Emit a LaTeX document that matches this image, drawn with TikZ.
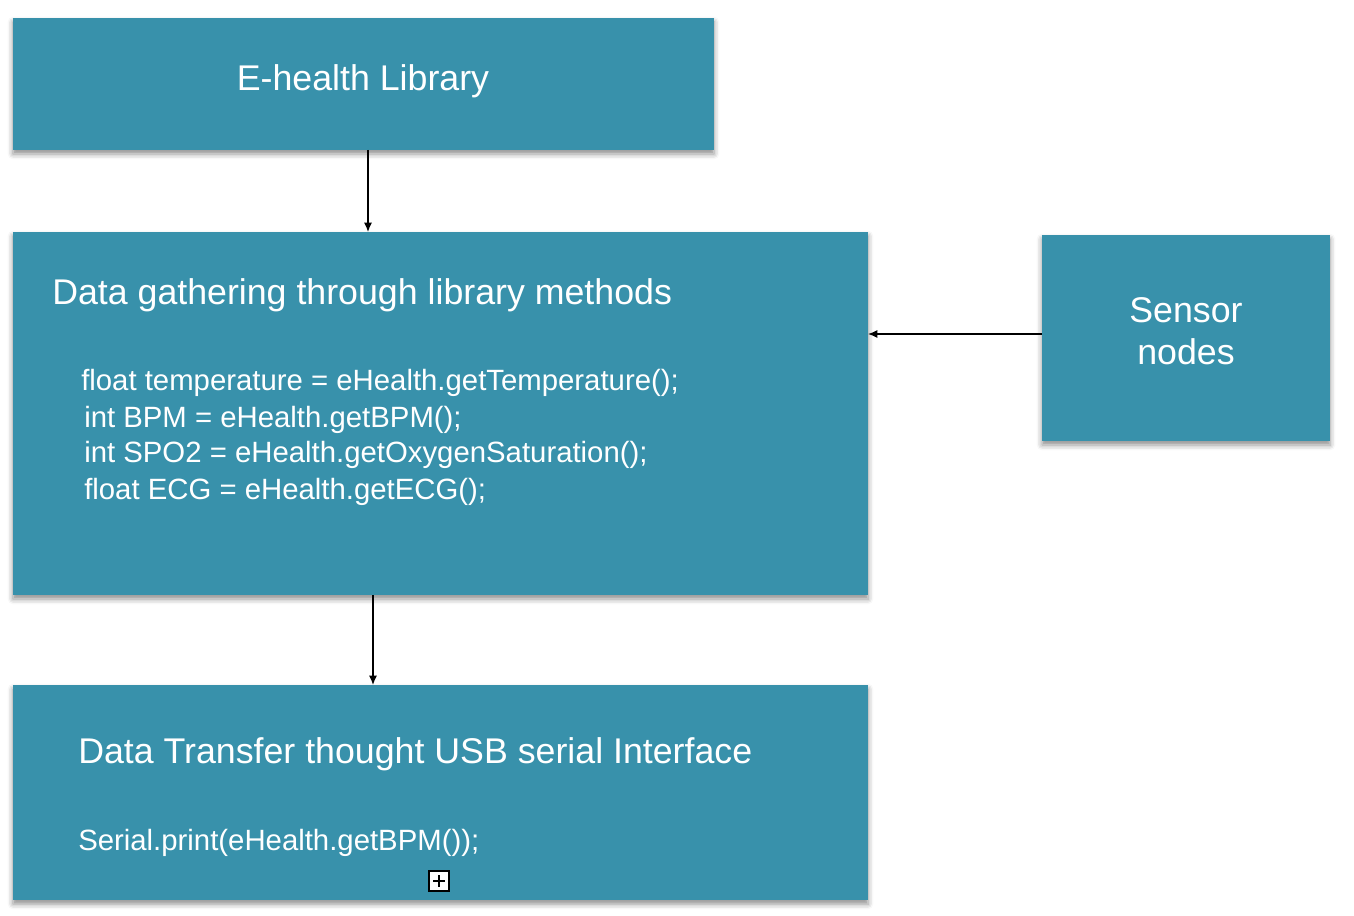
\documentclass[tikz,border=0pt]{standalone}
\usepackage{fontspec}
\setmainfont{Liberation Sans}
\usetikzlibrary{shadows.blur,arrows.meta}
\definecolor{boxteal}{RGB}{56,145,171}
\begin{document}
\begin{tikzpicture}[x=0.75pt,y=-0.75pt,
  box/.style={fill=boxteal,draw=none,blur shadow={shadow xshift=0pt,shadow yshift=-3pt,shadow blur radius=4pt,shadow opacity=45}},
  title/.style={text=white,font=\fontsize{26.8}{30}\selectfont,inner sep=0pt},
  code/.style={text=white,font=\fontsize{22}{26}\selectfont,inner sep=0pt,anchor=base west},
  conn/.style={-{Latex[length=7pt,width=6pt]},line width=0.9pt,black}]
\useasboundingbox (0,0) rectangle (1354,916);
\path[box] (13,18) rectangle (714,150);
\path[box] (13,232) rectangle (868,595);
\path[box] (1042,235) rectangle (1330,441);
\path[box] (13,685) rectangle (868,900);
\coordinate (libB) at (368,150);
\coordinate (gathT) at (368,232);
\coordinate (gathB) at (373,595);
\coordinate (xferT) at (373,685);
\coordinate (sensL) at (1042,334);
\coordinate (gathR) at (868,334);
\node[title] (lib) at (363,81) {E-health Library};
\node[title,anchor=base west] (gath) at (52,305) {Data gathering through library methods};
\node[code] (c1) at (81,391) {float temperature = eHealth.getTemperature();};
\node[code] (c2) at (84,427) {int BPM = eHealth.getBPM();};
\node[code] (c3) at (84,463) {int SPO2 = eHealth.getOxygenSaturation();};
\node[code] (c4) at (84,499) {float ECG = eHealth.getECG();};
\node[title,align=center,font=\fontsize{26.8}{31.5}\selectfont] (sens) at (1186,331) {Sensor\\nodes};
\node[title,anchor=base west] (xfer) at (78,763) {Data Transfer thought USB serial Interface};
\node[code] (c5) at (78,850) {Serial.print(eHealth.getBPM());};
\node[draw=black,fill=white,line width=1.4pt,minimum size=15pt,inner sep=0pt] (plus) at (439,881) {};
\draw[line width=1.4pt] (plus.center) ++(-6,0) -- ++(12,0);
\draw[line width=1.4pt] (plus.center) ++(0,-6) -- ++(0,12);
\draw[conn] (libB) -- (gathT);
\draw[conn] (gathB) -- (xferT);
\draw[conn] (sensL) -- (gathR);
\end{tikzpicture}
\end{document}
